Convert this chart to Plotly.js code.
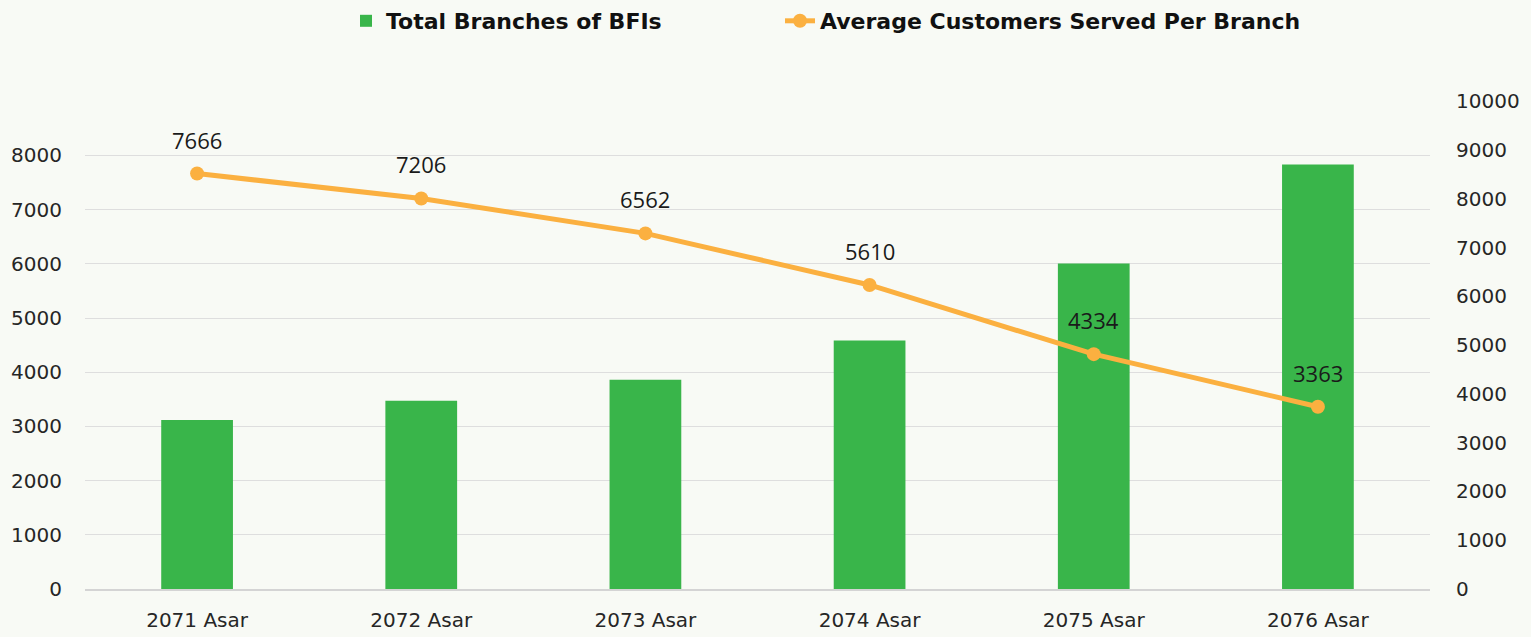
<!DOCTYPE html>
<html>
<head>
<meta charset="utf-8">
<script src="https://cdn.plot.ly/plotly-3.0.1.min.js"></script>
<style>html,body{margin:0;padding:0;background:#f8faf5;}#chart{width:1531px;height:637px;}</style>
</head>
<body>
<div id="chart"></div>
<script>
const categories = ["2071 Asar", "2072 Asar", "2073 Asar", "2074 Asar", "2075 Asar", "2076 Asar"];
const totalBranches = [3120, 3475, 3860, 4585, 6005, 7835];
const avgCustomers = [7666, 7206, 6562, 5610, 4334, 3363];
const leftTicks = [0, 1000, 2000, 3000, 4000, 5000, 6000, 7000, 8000, 9000];
const leftTickText = ["0", "1000", "2000", "3000", "4000", "5000", "6000", "7000", "8000", ""];
const rightTicks = [0, 1000, 2000, 3000, 4000, 5000, 6000, 7000, 8000, 9000, 10000];
const rightTickText = ["0", "1000", "2000", "3000", "4000", "5000", "6000", "7000", "8000", "9000", "10000"];

const tickFont = {family: "DejaVu Sans, sans-serif", size: 20, color: "#262626"};
const legendFont = {family: "DejaVu Sans, sans-serif", size: 22, color: "#111", weight: "bold"};

const traces = [
  {
    type: "bar", name: "Total Branches of BFIs", x: categories, y: totalBranches,
    marker: {color: "#39b54a"}, yaxis: "y", legend: "legend"
  },
  {
    type: "scatter", mode: "lines+markers", name: "Average Customers Served Per Branch",
    x: categories, y: avgCustomers, yaxis: "y", legend: "legend2",
    line: {color: "#fbb040", width: 5}, marker: {color: "#fbb040", size: 14}
  },
  {
    type: "scatter", mode: "markers", x: [categories[0]], y: [rightTicks[0]], yaxis: "y2",
    showlegend: false, hoverinfo: "skip", marker: {opacity: 0}
  }
];

const annotations = categories.map((c, i) => ({
  x: c, y: avgCustomers[i], xref: "x", yref: "y", text: String(avgCustomers[i]),
  showarrow: false, yshift: 34, font: {family: "Open Sans, Noto Sans, sans-serif", size: 22, color: "#1a1a1a"}
}));

const layout = {
  width: 1531, height: 637,
  paper_bgcolor: "#f8faf5", plot_bgcolor: "#f8faf5",
  margin: {l: 85, r: 101, t: 101, b: 48, autoexpand: false},
  bargap: 0.68,
  showlegend: true,
  legend: {
    orientation: "h", xref: "container", yref: "container",
    x: 346 / 1531, xanchor: "left", y: 1 - 21 / 637, yanchor: "middle",
    font: legendFont, bgcolor: "rgba(0,0,0,0)"
  },
  legend2: {
    orientation: "h", xref: "container", yref: "container",
    x: 780 / 1531, xanchor: "left", y: 1 - 21 / 637, yanchor: "middle",
    font: legendFont, bgcolor: "rgba(0,0,0,0)"
  },
  xaxis: {
    type: "category", tickfont: tickFont, showgrid: false,
    showline: true, linecolor: "#d4d4d4", linewidth: 2, ticks: "", ticklabelstandoff: 12
  },
  yaxis: {
    range: [0, 9005], tickvals: leftTicks, ticktext: leftTickText, tickfont: tickFont,
    showgrid: true, gridcolor: "#dedede", gridwidth: 1, zeroline: false, showline: false,
    ticks: "", ticklabelstandoff: 22
  },
  yaxis2: {
    range: [0, 10005], tickvals: rightTicks, ticktext: rightTickText, tickfont: tickFont,
    overlaying: "y", side: "right",
    showgrid: false, zeroline: false, showline: false, ticks: "", ticklabelstandoff: 25
  },
  annotations: annotations
};

Plotly.newPlot("chart", traces, layout, {displayModeBar: false, staticPlot: true});
</script>
</body>
</html>
